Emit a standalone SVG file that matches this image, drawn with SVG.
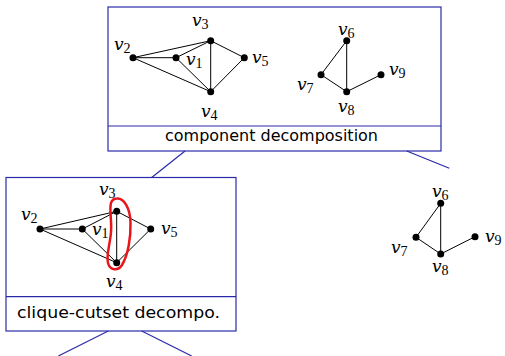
<svg xmlns="http://www.w3.org/2000/svg" width="505" height="356" viewBox="0 0 505 356">
<style>
.box{fill:none;stroke:#2a2aa8;stroke-width:1.2}
.conn{stroke:#2a2aa8;stroke-width:1.2;fill:none}
.e{stroke:#000;stroke-width:1;fill:none}
.n{fill:#000}
.lbl{font-family:"DejaVu Serif","Liberation Serif",serif;font-style:italic;font-size:17px;fill:#000}
.sub{font-family:"Liberation Serif",serif;font-style:normal;font-size:14px}
.cap{font-family:"DejaVu Sans","Liberation Sans",sans-serif;font-size:16.5px;fill:#000}
</style>
<rect width="505" height="356" fill="#fff"/>
<g id="connectors">
<line class="conn" x1="185" y1="151" x2="151.7" y2="177.5"/>
<line class="conn" x1="406.7" y1="151" x2="449.3" y2="168.3"/>
<line class="conn" x1="108.3" y1="331" x2="58.3" y2="356"/>
<line class="conn" x1="141.7" y1="331" x2="191.7" y2="356"/>
</g>
<g id="component-box">
<rect class="box" x="108" y="7" width="333" height="144"/>
<line class="box" x1="108" y1="126" x2="441" y2="126"/>
<text class="cap" x="165" y="141" textLength="213" lengthAdjust="spacingAndGlyphs">component decomposition</text>
<line class="e" x1="133" y1="57.7" x2="210.7" y2="40.7"/>
<line class="e" x1="133" y1="57.7" x2="176" y2="57.7"/>
<line class="e" x1="133" y1="57.7" x2="210.7" y2="91.7"/>
<line class="e" x1="176" y1="57.7" x2="210.7" y2="40.7"/>
<line class="e" x1="176" y1="57.7" x2="210.7" y2="91.7"/>
<line class="e" x1="210.7" y1="40.7" x2="210.7" y2="91.7"/>
<line class="e" x1="210.7" y1="40.7" x2="244.3" y2="57.7"/>
<line class="e" x1="244.3" y1="57.7" x2="210.7" y2="91.7"/>
<line class="e" x1="346.7" y1="40.7" x2="321" y2="74.7"/>
<line class="e" x1="346.7" y1="40.7" x2="346.7" y2="91.7"/>
<line class="e" x1="321" y1="74.7" x2="346.7" y2="91.7"/>
<line class="e" x1="346.7" y1="91.7" x2="381" y2="74.7"/>
<circle class="n" cx="133" cy="57.7" r="3.5"/>
<circle class="n" cx="176" cy="57.7" r="3.5"/>
<circle class="n" cx="210.7" cy="40.7" r="3.5"/>
<circle class="n" cx="244.3" cy="57.7" r="3.5"/>
<circle class="n" cx="210.7" cy="91.7" r="3.5"/>
<circle class="n" cx="346.7" cy="40.7" r="3.5"/>
<circle class="n" cx="321" cy="74.7" r="3.5"/>
<circle class="n" cx="346.7" cy="91.7" r="3.5"/>
<circle class="n" cx="381" cy="74.7" r="3.5"/>
<text class="lbl" x="114" y="50">v<tspan class="sub" dy="3">2</tspan></text>
<text class="lbl" x="192" y="25.5">v<tspan class="sub" dy="3">3</tspan></text>
<text class="lbl" x="186" y="65">v<tspan class="sub" dy="3">1</tspan></text>
<text class="lbl" x="252" y="63">v<tspan class="sub" dy="3">5</tspan></text>
<text class="lbl" x="201" y="116.7">v<tspan class="sub" dy="3">4</tspan></text>
<text class="lbl" x="338" y="35">v<tspan class="sub" dy="3">6</tspan></text>
<text class="lbl" x="297" y="90">v<tspan class="sub" dy="3">7</tspan></text>
<text class="lbl" x="338" y="111.7">v<tspan class="sub" dy="3">8</tspan></text>
<text class="lbl" x="389" y="75">v<tspan class="sub" dy="3">9</tspan></text>
</g>
<g id="clique-box">
<rect class="box" x="6" y="177.5" width="230" height="153.5"/>
<line class="box" x1="6" y1="296.7" x2="236" y2="296.7"/>
<text class="cap" x="17" y="318" textLength="203" lengthAdjust="spacingAndGlyphs">clique-cutset decompo.</text>
<line class="e" x1="40" y1="229" x2="116.7" y2="211.3"/>
<line class="e" x1="40" y1="229" x2="82.3" y2="229"/>
<line class="e" x1="40" y1="229" x2="116.7" y2="262.7"/>
<line class="e" x1="82.3" y1="229" x2="116.7" y2="211.3"/>
<line class="e" x1="82.3" y1="229" x2="116.7" y2="262.7"/>
<line class="e" x1="116.7" y1="211.3" x2="116.7" y2="262.7"/>
<line class="e" x1="116.7" y1="211.3" x2="150.7" y2="229"/>
<line class="e" x1="150.7" y1="229" x2="116.7" y2="262.7"/>
<circle class="n" cx="40" cy="229" r="3.5"/>
<circle class="n" cx="82.3" cy="229" r="3.5"/>
<circle class="n" cx="116.7" cy="211.3" r="3.5"/>
<circle class="n" cx="150.7" cy="229" r="3.5"/>
<circle class="n" cx="116.7" cy="262.7" r="3.5"/>
<path d="M117 198.5 C124 198 130 208 130.5 222 C131 238 128 255 122 265 C118 271 110 271 108 263 C106 255 110 245 111 232 C112 220 109 210 111 203 C112 200 114 198.5 117 198.5 Z" fill="none" stroke="#e8161b" stroke-width="2.5"/>
<text class="lbl" x="99" y="195">v<tspan class="sub" dy="3">3</tspan></text>
<text class="lbl" x="21" y="220">v<tspan class="sub" dy="3">2</tspan></text>
<text class="lbl" x="92" y="235">v<tspan class="sub" dy="3">1</tspan></text>
<text class="lbl" x="161" y="234">v<tspan class="sub" dy="3">5</tspan></text>
<text class="lbl" x="106" y="286.7">v<tspan class="sub" dy="3">4</tspan></text>
</g>
<g id="right-graph">
<line class="e" x1="440.7" y1="203.3" x2="416" y2="237.3"/>
<line class="e" x1="440.7" y1="203.3" x2="440.7" y2="254"/>
<line class="e" x1="416" y1="237.3" x2="440.7" y2="254"/>
<line class="e" x1="440.7" y1="254" x2="475" y2="236.7"/>
<circle class="n" cx="440.7" cy="203.3" r="3.5"/>
<circle class="n" cx="416" cy="237.3" r="3.5"/>
<circle class="n" cx="440.7" cy="254" r="3.5"/>
<circle class="n" cx="475" cy="236.7" r="3.5"/>
<text class="lbl" x="432" y="196.7">v<tspan class="sub" dy="3">6</tspan></text>
<text class="lbl" x="391" y="253">v<tspan class="sub" dy="3">7</tspan></text>
<text class="lbl" x="432" y="271.7">v<tspan class="sub" dy="3">8</tspan></text>
<text class="lbl" x="485" y="241.7">v<tspan class="sub" dy="3">9</tspan></text>
</g>
</svg>
